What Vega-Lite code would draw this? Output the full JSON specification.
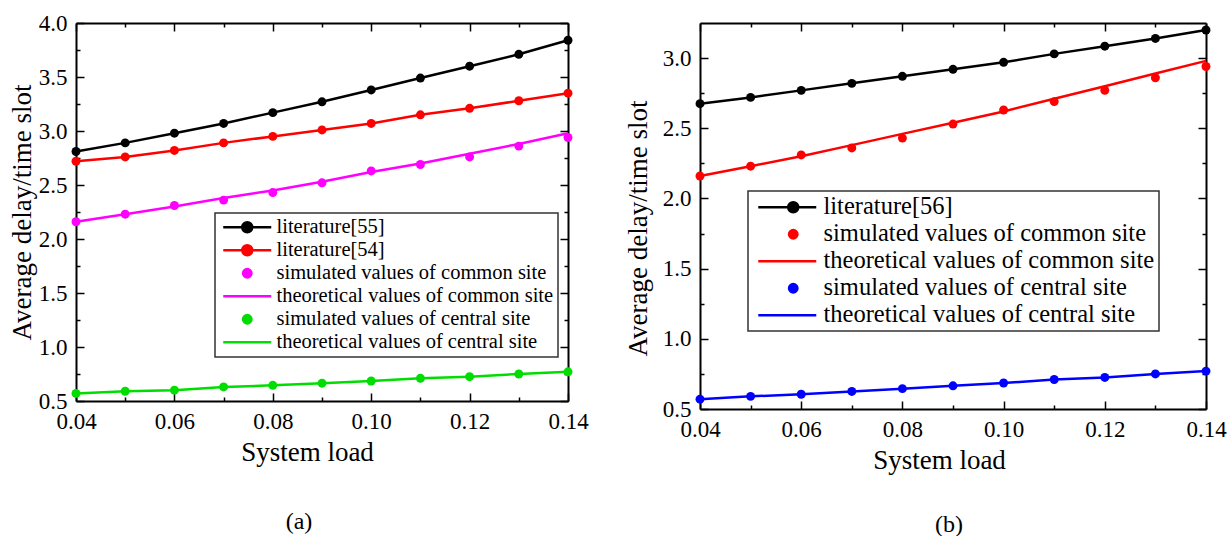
{
  "$schema": "https://vega.github.io/schema/vega-lite/v6.json",
  "background": "white",
  "padding": {"left": 8, "top": 5, "right": 2, "bottom": 0},
  "spacing": 35,
  "resolve": {
    "scale": {"color": "independent", "fill": "independent", "stroke": "independent", "shape": "independent"},
    "legend": {"color": "independent", "fill": "independent", "stroke": "independent", "shape": "independent"}
  },
  "config": {
    "view": {"stroke": null},
    "legend": {"strokeWidth": 1.5, "labelFont": "Liberation Serif", "labelColor": "black"},
    "axis": {"labelFont": "Liberation Serif", "titleFont": "Liberation Serif"},
    "style": {"guide-label": {"font": "Liberation Serif", "fill": "black"}, "guide-title": {"font": "Liberation Serif", "fill": "black"}}
  },
  "datasets": {
    "a": [
      {"s": "literature[55]", "k": "both", "x": 0.04, "y": 2.81},
      {"s": "literature[55]", "k": "both", "x": 0.05, "y": 2.89},
      {"s": "literature[55]", "k": "both", "x": 0.06, "y": 2.98},
      {"s": "literature[55]", "k": "both", "x": 0.07, "y": 3.07},
      {"s": "literature[55]", "k": "both", "x": 0.08, "y": 3.17},
      {"s": "literature[55]", "k": "both", "x": 0.09, "y": 3.27},
      {"s": "literature[55]", "k": "both", "x": 0.10, "y": 3.38},
      {"s": "literature[55]", "k": "both", "x": 0.11, "y": 3.49},
      {"s": "literature[55]", "k": "both", "x": 0.12, "y": 3.60},
      {"s": "literature[55]", "k": "both", "x": 0.13, "y": 3.71},
      {"s": "literature[55]", "k": "both", "x": 0.14, "y": 3.84},
      {"s": "literature[54]", "k": "both", "x": 0.04, "y": 2.72},
      {"s": "literature[54]", "k": "both", "x": 0.05, "y": 2.76},
      {"s": "literature[54]", "k": "both", "x": 0.06, "y": 2.82},
      {"s": "literature[54]", "k": "both", "x": 0.07, "y": 2.89},
      {"s": "literature[54]", "k": "both", "x": 0.08, "y": 2.95},
      {"s": "literature[54]", "k": "both", "x": 0.09, "y": 3.01},
      {"s": "literature[54]", "k": "both", "x": 0.10, "y": 3.07},
      {"s": "literature[54]", "k": "both", "x": 0.11, "y": 3.15},
      {"s": "literature[54]", "k": "both", "x": 0.12, "y": 3.21},
      {"s": "literature[54]", "k": "both", "x": 0.13, "y": 3.28},
      {"s": "literature[54]", "k": "both", "x": 0.14, "y": 3.35},
      {"s": "simulated values of common site", "k": "point", "x": 0.04, "y": 2.16},
      {"s": "simulated values of common site", "k": "point", "x": 0.05, "y": 2.23},
      {"s": "simulated values of common site", "k": "point", "x": 0.06, "y": 2.31},
      {"s": "simulated values of common site", "k": "point", "x": 0.07, "y": 2.36},
      {"s": "simulated values of common site", "k": "point", "x": 0.08, "y": 2.43},
      {"s": "simulated values of common site", "k": "point", "x": 0.09, "y": 2.52},
      {"s": "simulated values of common site", "k": "point", "x": 0.10, "y": 2.63},
      {"s": "simulated values of common site", "k": "point", "x": 0.11, "y": 2.69},
      {"s": "simulated values of common site", "k": "point", "x": 0.12, "y": 2.76},
      {"s": "simulated values of common site", "k": "point", "x": 0.13, "y": 2.86},
      {"s": "simulated values of common site", "k": "point", "x": 0.14, "y": 2.94},
      {"s": "theoretical values of common site", "k": "line", "x": 0.04, "y": 2.16},
      {"s": "theoretical values of common site", "k": "line", "x": 0.05, "y": 2.23},
      {"s": "theoretical values of common site", "k": "line", "x": 0.06, "y": 2.30},
      {"s": "theoretical values of common site", "k": "line", "x": 0.07, "y": 2.38},
      {"s": "theoretical values of common site", "k": "line", "x": 0.08, "y": 2.45},
      {"s": "theoretical values of common site", "k": "line", "x": 0.09, "y": 2.53},
      {"s": "theoretical values of common site", "k": "line", "x": 0.10, "y": 2.62},
      {"s": "theoretical values of common site", "k": "line", "x": 0.11, "y": 2.70},
      {"s": "theoretical values of common site", "k": "line", "x": 0.12, "y": 2.79},
      {"s": "theoretical values of common site", "k": "line", "x": 0.13, "y": 2.88},
      {"s": "theoretical values of common site", "k": "line", "x": 0.14, "y": 2.98},
      {"s": "simulated values of central site", "k": "point", "x": 0.04, "y": 0.57},
      {"s": "simulated values of central site", "k": "point", "x": 0.05, "y": 0.59},
      {"s": "simulated values of central site", "k": "point", "x": 0.06, "y": 0.60},
      {"s": "simulated values of central site", "k": "point", "x": 0.07, "y": 0.63},
      {"s": "simulated values of central site", "k": "point", "x": 0.08, "y": 0.645},
      {"s": "simulated values of central site", "k": "point", "x": 0.09, "y": 0.665},
      {"s": "simulated values of central site", "k": "point", "x": 0.10, "y": 0.685},
      {"s": "simulated values of central site", "k": "point", "x": 0.11, "y": 0.71},
      {"s": "simulated values of central site", "k": "point", "x": 0.12, "y": 0.725},
      {"s": "simulated values of central site", "k": "point", "x": 0.13, "y": 0.75},
      {"s": "simulated values of central site", "k": "point", "x": 0.14, "y": 0.77},
      {"s": "theoretical values of central site", "k": "line", "x": 0.04, "y": 0.57},
      {"s": "theoretical values of central site", "k": "line", "x": 0.05, "y": 0.59},
      {"s": "theoretical values of central site", "k": "line", "x": 0.06, "y": 0.60},
      {"s": "theoretical values of central site", "k": "line", "x": 0.07, "y": 0.63},
      {"s": "theoretical values of central site", "k": "line", "x": 0.08, "y": 0.645},
      {"s": "theoretical values of central site", "k": "line", "x": 0.09, "y": 0.665},
      {"s": "theoretical values of central site", "k": "line", "x": 0.10, "y": 0.685},
      {"s": "theoretical values of central site", "k": "line", "x": 0.11, "y": 0.71},
      {"s": "theoretical values of central site", "k": "line", "x": 0.12, "y": 0.725},
      {"s": "theoretical values of central site", "k": "line", "x": 0.13, "y": 0.75},
      {"s": "theoretical values of central site", "k": "line", "x": 0.14, "y": 0.77}
    ],
    "b": [
      {"s": "literature[56]", "k": "both", "x": 0.04, "y": 2.675},
      {"s": "literature[56]", "k": "both", "x": 0.05, "y": 2.72},
      {"s": "literature[56]", "k": "both", "x": 0.06, "y": 2.77},
      {"s": "literature[56]", "k": "both", "x": 0.07, "y": 2.82},
      {"s": "literature[56]", "k": "both", "x": 0.08, "y": 2.87},
      {"s": "literature[56]", "k": "both", "x": 0.09, "y": 2.92},
      {"s": "literature[56]", "k": "both", "x": 0.10, "y": 2.97},
      {"s": "literature[56]", "k": "both", "x": 0.11, "y": 3.03},
      {"s": "literature[56]", "k": "both", "x": 0.12, "y": 3.085},
      {"s": "literature[56]", "k": "both", "x": 0.13, "y": 3.14},
      {"s": "literature[56]", "k": "both", "x": 0.14, "y": 3.20},
      {"s": "simulated values of common site", "k": "point", "x": 0.04, "y": 2.16},
      {"s": "simulated values of common site", "k": "point", "x": 0.05, "y": 2.23},
      {"s": "simulated values of common site", "k": "point", "x": 0.06, "y": 2.31},
      {"s": "simulated values of common site", "k": "point", "x": 0.07, "y": 2.36},
      {"s": "simulated values of common site", "k": "point", "x": 0.08, "y": 2.43},
      {"s": "simulated values of common site", "k": "point", "x": 0.09, "y": 2.53},
      {"s": "simulated values of common site", "k": "point", "x": 0.10, "y": 2.63},
      {"s": "simulated values of common site", "k": "point", "x": 0.11, "y": 2.69},
      {"s": "simulated values of common site", "k": "point", "x": 0.12, "y": 2.77},
      {"s": "simulated values of common site", "k": "point", "x": 0.13, "y": 2.86},
      {"s": "simulated values of common site", "k": "point", "x": 0.14, "y": 2.94},
      {"s": "theoretical values of common site", "k": "line", "x": 0.04, "y": 2.16},
      {"s": "theoretical values of common site", "k": "line", "x": 0.05, "y": 2.23},
      {"s": "theoretical values of common site", "k": "line", "x": 0.06, "y": 2.30},
      {"s": "theoretical values of common site", "k": "line", "x": 0.07, "y": 2.38},
      {"s": "theoretical values of common site", "k": "line", "x": 0.08, "y": 2.46},
      {"s": "theoretical values of common site", "k": "line", "x": 0.09, "y": 2.54},
      {"s": "theoretical values of common site", "k": "line", "x": 0.10, "y": 2.62},
      {"s": "theoretical values of common site", "k": "line", "x": 0.11, "y": 2.71},
      {"s": "theoretical values of common site", "k": "line", "x": 0.12, "y": 2.80},
      {"s": "theoretical values of common site", "k": "line", "x": 0.13, "y": 2.89},
      {"s": "theoretical values of common site", "k": "line", "x": 0.14, "y": 2.98},
      {"s": "simulated values of central site", "k": "point", "x": 0.04, "y": 0.57},
      {"s": "simulated values of central site", "k": "point", "x": 0.05, "y": 0.59},
      {"s": "simulated values of central site", "k": "point", "x": 0.06, "y": 0.605},
      {"s": "simulated values of central site", "k": "point", "x": 0.07, "y": 0.625},
      {"s": "simulated values of central site", "k": "point", "x": 0.08, "y": 0.645},
      {"s": "simulated values of central site", "k": "point", "x": 0.09, "y": 0.665},
      {"s": "simulated values of central site", "k": "point", "x": 0.10, "y": 0.685},
      {"s": "simulated values of central site", "k": "point", "x": 0.11, "y": 0.71},
      {"s": "simulated values of central site", "k": "point", "x": 0.12, "y": 0.725},
      {"s": "simulated values of central site", "k": "point", "x": 0.13, "y": 0.75},
      {"s": "simulated values of central site", "k": "point", "x": 0.14, "y": 0.77},
      {"s": "theoretical values of central site", "k": "line", "x": 0.04, "y": 0.57},
      {"s": "theoretical values of central site", "k": "line", "x": 0.05, "y": 0.59},
      {"s": "theoretical values of central site", "k": "line", "x": 0.06, "y": 0.605},
      {"s": "theoretical values of central site", "k": "line", "x": 0.07, "y": 0.625},
      {"s": "theoretical values of central site", "k": "line", "x": 0.08, "y": 0.645},
      {"s": "theoretical values of central site", "k": "line", "x": 0.09, "y": 0.665},
      {"s": "theoretical values of central site", "k": "line", "x": 0.10, "y": 0.685},
      {"s": "theoretical values of central site", "k": "line", "x": 0.11, "y": 0.71},
      {"s": "theoretical values of central site", "k": "line", "x": 0.12, "y": 0.725},
      {"s": "theoretical values of central site", "k": "line", "x": 0.13, "y": 0.75},
      {"s": "theoretical values of central site", "k": "line", "x": 0.14, "y": 0.77}
    ]
  },
  "hconcat": [
    {
      "width": 492,
      "height": 378,
      "data": {"name": "a"},
      "title": {"text": "(a)", "orient": "bottom", "font": "Liberation Serif", "fontSize": 24, "fontWeight": "normal", "color": "black", "offset": 45, "anchor": "middle", "dx": -23},
      "resolve": {"axis": {"x": "independent", "y": "independent"}},
      "layer": [
        {
          "transform": [{"filter": "datum.k != 'point'"}],
          "mark": {"type": "line", "strokeWidth": 2.5},
          "encoding": {
            "x": {"field": "x", "type": "quantitative", "scale": {"domain": [0.04, 0.14], "nice": false, "zero": false},
              "axis": {"orient": "bottom", "title": "System load", "titlePadding": 2, "titleX": 231,
                "grid": false, "domainColor": "black", "domainWidth": 2, "tickColor": "black", "tickWidth": 1.5,
                "labelFont": "Liberation Serif", "labelFontSize": 23, "labelColor": "black", "labelFlush": false, "labelOverlap": false, "labelPadding": 17,
                "titleFont": "Liberation Serif", "titleFontSize": 27, "titleFontWeight": "normal", "titleColor": "black",
                "values": [0.04, 0.05, 0.06, 0.07, 0.08, 0.09, 0.10, 0.11, 0.12, 0.13, 0.14],
                "labelExpr": "round(datum.value*100) % 2 == 0 ? format(datum.value, '.2f') : ''",
                "tickSize": {"condition": {"test": "round(datum.value*100) % 2 == 0", "value": -8}, "value": -4}}},
            "y": {"field": "y", "type": "quantitative", "scale": {"domain": [0.5, 4.0], "nice": false, "zero": false},
              "axis": {"orient": "left", "title": "Average delay/time slot", "titlePadding": 2,
                "grid": false, "domainColor": "black", "domainWidth": 2, "tickColor": "black", "tickWidth": 1.5,
                "labelFont": "Liberation Serif", "labelFontSize": 23, "labelColor": "black", "labelFlush": false, "labelOverlap": false, "labelPadding": 17,
                "titleFont": "Liberation Serif", "titleFontSize": 27, "titleFontWeight": "normal", "titleColor": "black",
                "values": [0.5, 0.75, 1.0, 1.25, 1.5, 1.75, 2.0, 2.25, 2.5, 2.75, 3.0, 3.25, 3.5, 3.75, 4.0],
                "labelExpr": "round(datum.value*4) % 2 == 0 ? format(datum.value, '.1f') : ''",
                "tickSize": {"condition": {"test": "round(datum.value*4) % 2 == 0", "value": -8}, "value": -4}}},
            "color": {"field": "s", "type": "nominal", "legend": null,
              "scale": {"domain": ["theoretical values of central site", "simulated values of central site", "theoretical values of common site", "simulated values of common site", "literature[54]", "literature[55]"],
                "range": ["#00dd00", "#00dd00", "#ff00ff", "#ff00ff", "#ff0000", "#000000"]}}
          }
        },
        {
          "transform": [{"filter": "datum.k != 'line'"}],
          "mark": {"type": "circle", "size": 80, "opacity": 1},
          "encoding": {
            "x": {"field": "x", "type": "quantitative",
              "axis": {"orient": "top", "title": null, "labels": false, "minExtent": 18, "maxExtent": 18, "grid": false, "domainColor": "black", "domainWidth": 2, "tickColor": "black", "tickWidth": 1.5,
                "values": [0.04, 0.05, 0.06, 0.07, 0.08, 0.09, 0.10, 0.11, 0.12, 0.13, 0.14],
                "tickSize": {"condition": {"test": "round(datum.value*100) % 2 == 0", "value": -8}, "value": -4}}},
            "y": {"field": "y", "type": "quantitative",
              "axis": {"orient": "right", "title": null, "labels": false, "grid": false, "domainColor": "black", "domainWidth": 2, "tickColor": "black", "tickWidth": 1.5,
                "values": [0.5, 0.75, 1.0, 1.25, 1.5, 1.75, 2.0, 2.25, 2.5, 2.75, 3.0, 3.25, 3.5, 3.75, 4.0],
                "tickSize": {"condition": {"test": "round(datum.value*4) % 2 == 0", "value": -8}, "value": -4}}},
            "color": {"field": "s", "type": "nominal", "legend": null}
          }
        },
        {
          "mark": {"type": "point", "filled": true, "opacity": 0.001, "strokeWidth": 2.5},
          "encoding": {
            "fill": {"field": "s", "type": "nominal",
              "scale": {"domain": ["literature[55]", "literature[54]", "simulated values of common site", "theoretical values of common site", "simulated values of central site", "theoretical values of central site"],
                "range": ["#000000", "#ff0000", "#ff00ff", "#ff00ff", "#00dd00", "#00dd00"]},
              "legend": {"title": null, "orient": "none", "legendX": 139, "legendY": 190, "direction": "vertical", "labelFont": "Liberation Serif", "labelFontSize": 20.5, "labelColor": "black", "symbolSize": 144, "symbolStrokeWidth": 2.5, "labelOffset": 37, "rowPadding": 2, "padding": 4, "strokeColor": "#333333", "fillColor": "white", "symbolOpacity": 1, "labelLimit": 500,
                "encode": {"labels": {"update": {"font": {"value": "Liberation Serif"}, "fontSize": {"value": 20.5}, "fill": {"value": "black"}}}}}},
            "stroke": {"field": "s", "type": "nominal",
              "scale": {"domain": ["literature[55]", "literature[54]", "simulated values of common site", "theoretical values of common site", "simulated values of central site", "theoretical values of central site"],
                "range": ["#000000", "#ff0000", "#ff00ff", "#ff00ff", "#00dd00", "#00dd00"]},
              "legend": {"title": null, "orient": "none", "legendX": 139, "legendY": 190, "direction": "vertical", "labelFont": "Liberation Serif", "labelFontSize": 20.5, "labelColor": "black", "symbolSize": 144, "symbolStrokeWidth": 2.5, "labelOffset": 37, "rowPadding": 2, "padding": 4, "strokeColor": "#333333", "fillColor": "white", "symbolOpacity": 1, "labelLimit": 500,
                "encode": {"labels": {"update": {"font": {"value": "Liberation Serif"}, "fontSize": {"value": 20.5}, "fill": {"value": "black"}}}}}},
            "shape": {"field": "s", "type": "nominal",
              "scale": {"domain": ["literature[55]", "literature[54]", "simulated values of common site", "theoretical values of common site", "simulated values of central site", "theoretical values of central site"],
                "range": ["M-1,0H7M2.17,0A0.83,0.83 0 1,1 3.83,0A0.83,0.83 0 1,1 2.17,0Z", "M-1,0H7M2.17,0A0.83,0.83 0 1,1 3.83,0A0.83,0.83 0 1,1 2.17,0Z", "M2.3,0A0.7,0.7 0 1,1 3.7,0A0.7,0.7 0 1,1 2.3,0Z", "M-1,0H7", "M2.3,0A0.7,0.7 0 1,1 3.7,0A0.7,0.7 0 1,1 2.3,0Z", "M-1,0H7"]},
              "legend": {"title": null, "orient": "none", "legendX": 139, "legendY": 190, "direction": "vertical", "labelFont": "Liberation Serif", "labelFontSize": 20.5, "labelColor": "black", "symbolSize": 144, "symbolStrokeWidth": 2.5, "labelOffset": 37, "rowPadding": 2, "padding": 4, "strokeColor": "#333333", "fillColor": "white", "symbolOpacity": 1, "labelLimit": 500,
                "encode": {"labels": {"update": {"font": {"value": "Liberation Serif"}, "fontSize": {"value": 20.5}, "fill": {"value": "black"}}}}}}
          }
        }
      ]
    },
    {
      "width": 506,
      "height": 386,
      "data": {"name": "b"},
      "title": {"text": "(b)", "orient": "bottom", "font": "Liberation Serif", "fontSize": 24, "fontWeight": "normal", "color": "black", "offset": 40, "anchor": "middle", "dx": -4},
      "resolve": {"axis": {"x": "independent", "y": "independent"}},
      "layer": [
        {
          "transform": [{"filter": "datum.k != 'point'"}],
          "mark": {"type": "line", "strokeWidth": 2.5},
          "encoding": {
            "x": {"field": "x", "type": "quantitative", "scale": {"domain": [0.04, 0.14], "nice": false, "zero": false},
              "axis": {"orient": "bottom", "title": "System load", "titlePadding": 2, "titleX": 239,
                "grid": false, "domainColor": "black", "domainWidth": 2, "tickColor": "black", "tickWidth": 1.5,
                "labelFont": "Liberation Serif", "labelFontSize": 23, "labelColor": "black", "labelFlush": false, "labelOverlap": false, "labelPadding": 17,
                "titleFont": "Liberation Serif", "titleFontSize": 27, "titleFontWeight": "normal", "titleColor": "black",
                "values": [0.04, 0.05, 0.06, 0.07, 0.08, 0.09, 0.10, 0.11, 0.12, 0.13, 0.14],
                "labelExpr": "round(datum.value*100) % 2 == 0 ? format(datum.value, '.2f') : ''",
                "tickSize": {"condition": {"test": "round(datum.value*100) % 2 == 0", "value": -8}, "value": -4}}},
            "y": {"field": "y", "type": "quantitative", "scale": {"domain": [0.5, 3.25], "nice": false, "zero": false},
              "axis": {"orient": "left", "title": "Average delay/time slot", "titlePadding": 10, "titleY": 205,
                "grid": false, "domainColor": "black", "domainWidth": 2, "tickColor": "black", "tickWidth": 1.5,
                "labelFont": "Liberation Serif", "labelFontSize": 23, "labelColor": "black", "labelFlush": false, "labelOverlap": false, "labelPadding": 17,
                "titleFont": "Liberation Serif", "titleFontSize": 27, "titleFontWeight": "normal", "titleColor": "black",
                "values": [0.5, 0.75, 1.0, 1.25, 1.5, 1.75, 2.0, 2.25, 2.5, 2.75, 3.0],
                "labelExpr": "round(datum.value*4) % 2 == 0 ? format(datum.value, '.1f') : ''",
                "tickSize": {"condition": {"test": "round(datum.value*4) % 2 == 0", "value": -8}, "value": -4}}},
            "color": {"field": "s", "type": "nominal", "legend": null,
              "scale": {"domain": ["theoretical values of central site", "simulated values of central site", "theoretical values of common site", "simulated values of common site", "literature[56]"],
                "range": ["#0000ff", "#0000ff", "#ff0000", "#ff0000", "#000000"]}}
          }
        },
        {
          "transform": [{"filter": "datum.k != 'line'"}],
          "mark": {"type": "circle", "size": 80, "opacity": 1},
          "encoding": {
            "x": {"field": "x", "type": "quantitative",
              "axis": {"orient": "top", "title": null, "labels": false, "minExtent": 11, "maxExtent": 11, "grid": false, "domainColor": "black", "domainWidth": 2, "tickColor": "black", "tickWidth": 1.5,
                "values": [0.04, 0.05, 0.06, 0.07, 0.08, 0.09, 0.10, 0.11, 0.12, 0.13, 0.14],
                "tickSize": {"condition": {"test": "round(datum.value*100) % 2 == 0", "value": -8}, "value": -4}}},
            "y": {"field": "y", "type": "quantitative",
              "axis": {"orient": "right", "title": null, "labels": false, "grid": false, "domainColor": "black", "domainWidth": 2, "tickColor": "black", "tickWidth": 1.5,
                "values": [0.5, 0.75, 1.0, 1.25, 1.5, 1.75, 2.0, 2.25, 2.5, 2.75, 3.0],
                "tickSize": {"condition": {"test": "round(datum.value*4) % 2 == 0", "value": -8}, "value": -4}}},
            "color": {"field": "s", "type": "nominal", "legend": null}
          }
        },
        {
          "mark": {"type": "point", "filled": true, "opacity": 0.001, "strokeWidth": 2.5},
          "encoding": {
            "fill": {"field": "s", "type": "nominal",
              "scale": {"domain": ["literature[56]", "simulated values of common site", "theoretical values of common site", "simulated values of central site", "theoretical values of central site"],
                "range": ["#000000", "#ff0000", "#ff0000", "#0000ff", "#0000ff"]},
              "legend": {"title": null, "orient": "none", "legendX": 48, "legendY": 168, "direction": "vertical", "labelFont": "Liberation Serif", "labelFontSize": 24.5, "labelColor": "black", "symbolSize": 144, "symbolStrokeWidth": 2.5, "labelOffset": 47, "rowPadding": 2, "padding": 4, "strokeColor": "#333333", "fillColor": "white", "symbolOpacity": 1, "labelLimit": 500,
                "encode": {"labels": {"update": {"font": {"value": "Liberation Serif"}, "fontSize": {"value": 24.5}, "fill": {"value": "black"}}}}}},
            "stroke": {"field": "s", "type": "nominal",
              "scale": {"domain": ["literature[56]", "simulated values of common site", "theoretical values of common site", "simulated values of central site", "theoretical values of central site"],
                "range": ["#000000", "#ff0000", "#ff0000", "#0000ff", "#0000ff"]},
              "legend": {"title": null, "orient": "none", "legendX": 48, "legendY": 168, "direction": "vertical", "labelFont": "Liberation Serif", "labelFontSize": 24.5, "labelColor": "black", "symbolSize": 144, "symbolStrokeWidth": 2.5, "labelOffset": 47, "rowPadding": 2, "padding": 4, "strokeColor": "#333333", "fillColor": "white", "symbolOpacity": 1, "labelLimit": 500,
                "encode": {"labels": {"update": {"font": {"value": "Liberation Serif"}, "fontSize": {"value": 24.5}, "fill": {"value": "black"}}}}}},
            "shape": {"field": "s", "type": "nominal",
              "scale": {"domain": ["literature[56]", "simulated values of common site", "theoretical values of common site", "simulated values of central site", "theoretical values of central site"],
                "range": ["M-1,0H8.67M4,0A0.83,0.83 0 1,1 5.66,0A0.83,0.83 0 1,1 4,0Z", "M4.13,0A0.7,0.7 0 1,1 5.53,0A0.7,0.7 0 1,1 4.13,0Z", "M-1,0H8.67", "M4.13,0A0.7,0.7 0 1,1 5.53,0A0.7,0.7 0 1,1 4.13,0Z", "M-1,0H8.67"]},
              "legend": {"title": null, "orient": "none", "legendX": 48, "legendY": 168, "direction": "vertical", "labelFont": "Liberation Serif", "labelFontSize": 24.5, "labelColor": "black", "symbolSize": 144, "symbolStrokeWidth": 2.5, "labelOffset": 47, "rowPadding": 2, "padding": 4, "strokeColor": "#333333", "fillColor": "white", "symbolOpacity": 1, "labelLimit": 500,
                "encode": {"labels": {"update": {"font": {"value": "Liberation Serif"}, "fontSize": {"value": 24.5}, "fill": {"value": "black"}}}}}}
          }
        }
      ]
    }
  ]
}
